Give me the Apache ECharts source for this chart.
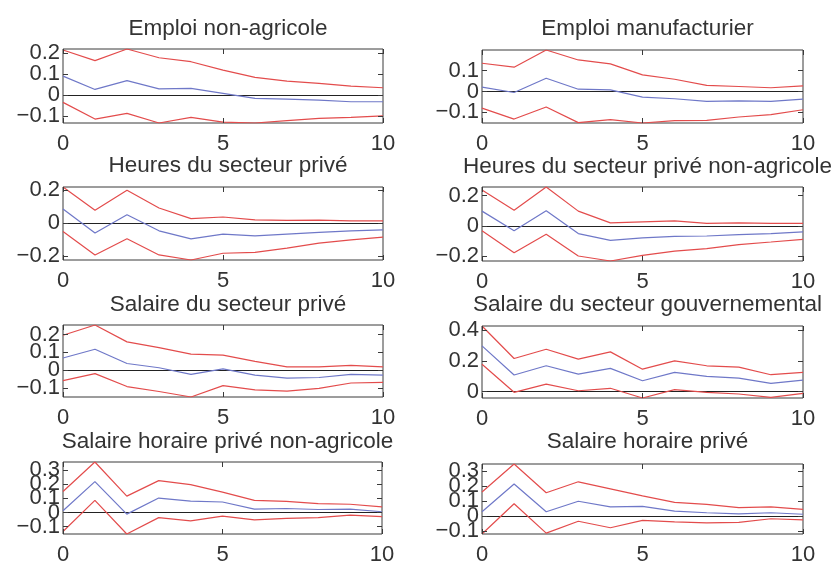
<!DOCTYPE html>
<html>
<head>
<meta charset="utf-8">
<script src="https://cdn.jsdelivr.net/npm/echarts@6/dist/echarts.min.js"></script>
<style>html,body{margin:0;padding:0;background:#fff}#c{width:834px;height:566px}</style>
</head>
<body>
<div id="c"></div>
<script>
// ---- data ----
const horizon = [0,1,2,3,4,5,6,7,8,9,10];
const xTicks = [0,5,10];
const titles = ['Emploi non-agricole','Emploi manufacturier','Heures du secteur privé','Heures du secteur privé non-agricole','Salaire du secteur privé','Salaire du secteur gouvernemental','Salaire horaire privé non-agricole','Salaire horaire privé'];

const empNonAgUpper = [0.216,0.165,0.221,0.179,0.160,0.120,0.085,0.067,0.056,0.043,0.035];
const empNonAgIrf   = [0.091,0.027,0.069,0.030,0.032,0.008,-0.016,-0.019,-0.024,-0.032,-0.032];
const empNonAgLower = [-0.035,-0.115,-0.088,-0.134,-0.107,-0.130,-0.134,-0.123,-0.112,-0.107,-0.100];
const empNonAgTicks = [-0.1,0,0.1,0.2];

const empManUpper = [0.136,0.117,0.200,0.152,0.133,0.080,0.059,0.029,0.024,0.018,0.027];
const empManIrf   = [0.021,-0.005,0.064,0.011,0.008,-0.027,-0.035,-0.048,-0.045,-0.048,-0.037];
const empManLower = [-0.080,-0.133,-0.075,-0.150,-0.136,-0.152,-0.141,-0.139,-0.123,-0.112,-0.088];
const empManTicks = [-0.1,0,0.1];

const hrsPrivUpper = [0.220,0.078,0.200,0.092,0.027,0.037,0.020,0.016,0.018,0.014,0.014];
const hrsPrivIrf   = [0.086,-0.061,0.051,-0.047,-0.096,-0.067,-0.078,-0.067,-0.057,-0.047,-0.041];
const hrsPrivLower = [-0.051,-0.194,-0.096,-0.194,-0.225,-0.184,-0.178,-0.153,-0.122,-0.102,-0.086];
const hrsPrivTicks = [-0.2,0,0.2];

const hrsNonAgUpper = [0.238,0.104,0.258,0.098,0.020,0.027,0.033,0.016,0.020,0.016,0.016];
const hrsNonAgIrf   = [0.098,-0.033,0.100,-0.051,-0.096,-0.080,-0.069,-0.067,-0.058,-0.051,-0.040];
const hrsNonAgLower = [-0.033,-0.178,-0.056,-0.200,-0.233,-0.196,-0.167,-0.151,-0.124,-0.107,-0.089];
const hrsNonAgTicks = [-0.2,0,0.2];

const salPrivUpper = [0.196,0.254,0.159,0.126,0.090,0.084,0.049,0.018,0.018,0.026,0.018];
const salPrivIrf   = [0.068,0.117,0.037,0.013,-0.024,0.007,-0.029,-0.046,-0.042,-0.024,-0.029];
const salPrivLower = [-0.060,-0.020,-0.093,-0.121,-0.152,-0.088,-0.112,-0.119,-0.103,-0.073,-0.070];
const salPrivTicks = [-0.1,0,0.1,0.2];

const salGovUpper = [0.426,0.215,0.275,0.211,0.258,0.146,0.200,0.168,0.159,0.110,0.125];
const salGovIrf   = [0.297,0.108,0.168,0.114,0.151,0.071,0.125,0.099,0.088,0.054,0.075];
const salGovLower = [0.178,-0.004,0.049,0.006,0.022,-0.041,0.013,-0.004,-0.015,-0.037,-0.011];
const salGovTicks = [0,0.2,0.4];

const salHorNonAgUpper = [0.149,0.358,0.116,0.226,0.198,0.144,0.086,0.079,0.063,0.058,0.040];
const salHorNonAgIrf   = [0.012,0.219,-0.012,0.102,0.081,0.074,0.023,0.028,0.021,0.023,0.005];
const salHorNonAgLower = [-0.135,0.086,-0.153,-0.037,-0.060,-0.026,-0.053,-0.042,-0.037,-0.019,-0.030];
const salHorNonAgTicks = [-0.1,0,0.1,0.2,0.3];

const salHorPrivUpper = [0.160,0.347,0.155,0.228,0.181,0.134,0.091,0.077,0.055,0.060,0.043];
const salHorPrivIrf   = [0.028,0.213,0.028,0.098,0.060,0.064,0.032,0.021,0.013,0.021,0.011];
const salHorPrivLower = [-0.121,0.081,-0.115,-0.036,-0.079,-0.030,-0.040,-0.047,-0.043,-0.019,-0.026];
const salHorPrivTicks = [-0.1,0,0.1,0.2,0.3];

// ---- layout ----
const panels = [
  {u:empNonAgUpper,m:empNonAgIrf,l:empNonAgLower,t:empNonAgTicks},
  {u:empManUpper,m:empManIrf,l:empManLower,t:empManTicks},
  {u:hrsPrivUpper,m:hrsPrivIrf,l:hrsPrivLower,t:hrsPrivTicks},
  {u:hrsNonAgUpper,m:hrsNonAgIrf,l:hrsNonAgLower,t:hrsNonAgTicks},
  {u:salPrivUpper,m:salPrivIrf,l:salPrivLower,t:salPrivTicks},
  {u:salGovUpper,m:salGovIrf,l:salGovLower,t:salGovTicks},
  {u:salHorNonAgUpper,m:salHorNonAgIrf,l:salHorNonAgLower,t:salHorNonAgTicks},
  {u:salHorPrivUpper,m:salHorPrivIrf,l:salHorPrivLower,t:salHorPrivTicks}
];
const boxes = [
  [63,49,320,74],[482,50,321,73],
  [63,187,320,73],[482,187,321,74],
  [63,325,320,72],[482,326,321,72],
  [63,462,319,74],[482,464,321,72]
];
const titleY = [25,25,162,163,301,301,438,438];

const FONT = 'Liberation Sans, Arial, Helvetica, sans-serif';
const TXT = '#333';
const FRAME = '#3a3a3a';
const RED = '#e34c4c';
const BLUE = '#6f78c8';
const fmt = v => { const r = Math.round(v*10)/10; return r < 0 ? '\u2212' + Math.abs(r) : String(r); };
const pairs = arr => horizon.map((x,i)=>[x,arr[i]]);

const option = {animation:false, backgroundColor:'#fff', title:[], grid:[], xAxis:[], yAxis:[], series:[]};

panels.forEach((p,k)=>{
  const [L,T,W,H] = boxes[k];
  const all = p.u.concat(p.m,p.l);
  const ymin = Math.min(...all), ymax = Math.max(...all);
  option.title.push({text:titles[k], left:L+W/2, top:titleY[k]-13, textAlign:'center',
    textStyle:{fontFamily:FONT,fontSize:22.5,fontWeight:'normal',color:TXT}});
  option.grid.push({left:L, top:T, width:W, height:H, show:true, borderColor:FRAME, borderWidth:1, z:1});
  const xb = {type:'value', gridIndex:k, min:0, max:10, interval:5, z:5,
    axisLine:{show:false, onZero:false}, splitLine:{show:false},
    axisTick:{show:true, inside:true, length:5, lineStyle:{color:FRAME, width:1}},
    axisLabel:{show:true, margin:10, fontFamily:FONT, fontSize:22, color:TXT, customValues:xTicks}};
  const xi = option.xAxis.length;
  option.xAxis.push(Object.assign({}, xb, {position:'bottom'}));
  option.xAxis.push(Object.assign({}, xb, {position:'top', axisLabel:{show:false}}));
  const yb = {type:'value', gridIndex:k, min:ymin, max:ymax, z:5,
    axisLine:{show:false, onZero:false}, splitLine:{show:false},
    axisTick:{show:true, inside:true, length:5, customValues:p.t, lineStyle:{color:FRAME, width:1}},
    axisLabel:{show:false}};
  const yi = option.yAxis.length;
  option.yAxis.push(Object.assign({}, yb, {position:'left'}));
  option.yAxis.push(Object.assign({}, yb, {position:'right'}));
  // one label-only axis per tick value, so overlapping labels all stay visible (as in the original)
  p.t.forEach(v=>{
    option.yAxis.push({type:'value', gridIndex:k, min:ymin, max:ymax, position:'left',
      axisLine:{show:false, onZero:false}, splitLine:{show:false}, axisTick:{show:false},
      axisLabel:{show:true, margin:3, fontFamily:FONT, fontSize:22, color:TXT, customValues:[v], formatter:fmt, showMinLabel:true, showMaxLabel:true}});
  });
  option.series.push({type:'line', xAxisIndex:xi, yAxisIndex:yi, data:pairs(p.u), symbol:'none', lineStyle:{color:RED,width:1.2}, z:3,
    markLine:{silent:true, symbol:'none', label:{show:false}, lineStyle:{color:'#222',width:1,type:'solid'}, data:[{yAxis:0}], z:2}});
  option.series.push({type:'line', xAxisIndex:xi, yAxisIndex:yi, data:pairs(p.m), symbol:'none', lineStyle:{color:BLUE,width:1.2}, z:3});
  option.series.push({type:'line', xAxisIndex:xi, yAxisIndex:yi, data:pairs(p.l), symbol:'none', lineStyle:{color:RED,width:1.2}, z:3});
});

const chart = echarts.init(document.getElementById('c'), null, {renderer:'canvas'});
chart.setOption(option);
</script>
</body>
</html>
